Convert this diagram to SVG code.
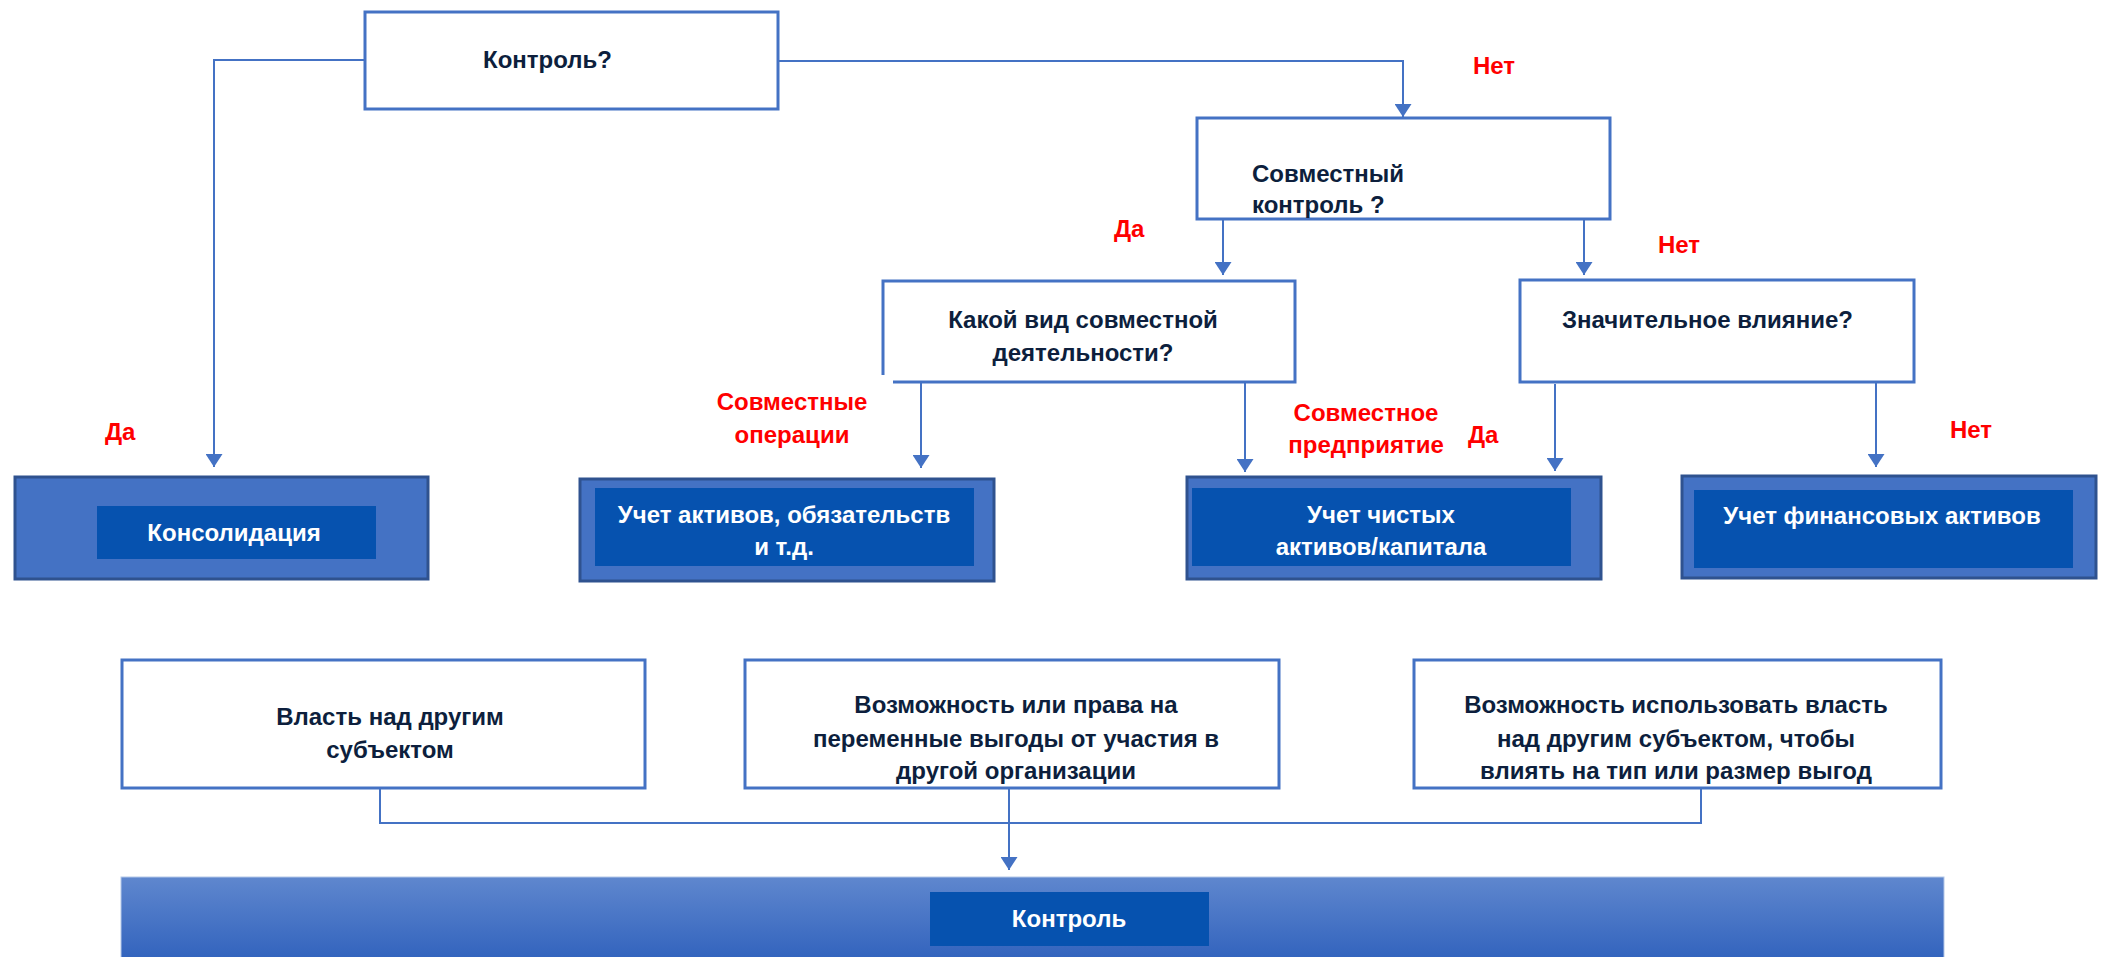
<svg xmlns="http://www.w3.org/2000/svg" width="2103" height="957" viewBox="0 0 2103 957">
<style>
  text{font-family:"Liberation Sans",Arial,sans-serif;font-weight:bold;font-size:24px}
  .dk{fill:#0D1F3D}
  .wt{fill:#FFFFFF}
  .rd{fill:#FF0000}
  .mid{text-anchor:middle}
  .q{fill:#FFFFFF;stroke:#4472C4;stroke-width:3}
  .outer{fill:#4472C4;stroke:#2F528F;stroke-width:3}
  .inner{fill:#0652AF}
  .con{fill:none;stroke:#4472C4;stroke-width:2}
</style>
<defs>
  <marker id="arr" viewBox="0 0 13 17" refX="13" refY="8.5" markerWidth="13" markerHeight="17" orient="auto" markerUnits="userSpaceOnUse">
    <path d="M0,0 L13,8.5 L0,17 z" fill="#4472C4"/>
  </marker>
  <linearGradient id="barg" x1="0" y1="0" x2="0" y2="1">
    <stop offset="0" stop-color="#5F87CE"/>
    <stop offset="1" stop-color="#2E60BC"/>
  </linearGradient>
</defs>

<g id="connectors">
  <path class="con" d="M365,60 H214 V467" marker-end="url(#arr)"/>
  <path class="con" d="M778,61 H1403 V117" marker-end="url(#arr)"/>
  <path class="con" d="M1223,219 V275" marker-end="url(#arr)"/>
  <path class="con" d="M1584,219 V275" marker-end="url(#arr)"/>
  <path class="con" d="M921,382 V468" marker-end="url(#arr)"/>
  <path class="con" d="M1245,382 V472" marker-end="url(#arr)"/>
  <path class="con" d="M1555,384 V471" marker-end="url(#arr)"/>
  <path class="con" d="M1876,381 V467" marker-end="url(#arr)"/>
  <path class="con" d="M380,788 V823 H1701 V788"/>
  <path class="con" d="M1009,788 V870" marker-end="url(#arr)"/>
</g>

<g id="labels">
  <text class="rd" x="1473" y="74">Нет</text>
  <text class="rd" x="1114" y="237">Да</text>
  <text class="rd" x="1658" y="253">Нет</text>
  <text class="rd" x="105" y="440">Да</text>
  <text class="rd mid" x="792" y="410">Совместные</text>
  <text class="rd mid" x="792" y="443">операции</text>
  <text class="rd mid" x="1366" y="421">Совместное</text>
  <text class="rd mid" x="1366" y="453">предприятие</text>
  <text class="rd" x="1468" y="443">Да</text>
  <text class="rd" x="1950" y="438">Нет</text>
</g>

<g id="n-control-q">
  <rect class="q" x="365" y="12" width="413" height="97"/>
  <text class="dk" x="483" y="68">Контроль?</text>
</g>

<g id="n-joint-control">
  <rect class="q" x="1197" y="118" width="413" height="101"/>
  <text class="dk" x="1252" y="182">Совместный</text>
  <text class="dk" x="1252" y="213">контроль ?</text>
</g>

<g id="n-joint-kind">
  <path class="q" d="M893,382 H1295 V281 H883 V375"/>
  <text class="dk mid" x="1083" y="328">Какой вид совместной</text>
  <text class="dk mid" x="1083" y="361">деятельности?</text>
</g>

<g id="n-influence">
  <rect class="q" x="1520" y="280" width="394" height="102"/>
  <text class="dk" x="1562" y="328">Значительное влияние?</text>
</g>

<g id="n-consolidation">
  <rect class="outer" x="15" y="477" width="413" height="102"/>
  <rect class="inner" x="97" y="506" width="279" height="53"/>
  <text class="wt mid" x="234" y="541">Консолидация</text>
</g>

<g id="n-assets">
  <rect class="outer" x="580" y="479" width="414" height="102"/>
  <rect class="inner" x="595" y="488" width="379" height="78"/>
  <text class="wt mid" x="784" y="523">Учет активов, обязательств</text>
  <text class="wt mid" x="784" y="555">и т.д.</text>
</g>

<g id="n-net-assets">
  <rect class="outer" x="1187" y="477" width="414" height="102"/>
  <rect class="inner" x="1192" y="488" width="379" height="78"/>
  <text class="wt mid" x="1381" y="523">Учет чистых</text>
  <text class="wt mid" x="1381" y="555">активов/капитала</text>
</g>

<g id="n-fin-assets">
  <rect class="outer" x="1682" y="476" width="414" height="102"/>
  <rect class="inner" x="1694" y="490" width="379" height="78"/>
  <text class="wt mid" x="1882" y="524">Учет финансовых активов</text>
</g>

<g id="n-power">
  <rect class="q" x="122" y="660" width="523" height="128"/>
  <text class="dk mid" x="390" y="725">Власть над другим</text>
  <text class="dk mid" x="390" y="758">субъектом</text>
</g>

<g id="n-variable">
  <rect class="q" x="745" y="660" width="534" height="128"/>
  <text class="dk mid" x="1016" y="713">Возможность или права на</text>
  <text class="dk mid" x="1016" y="747">переменные выгоды от участия в</text>
  <text class="dk mid" x="1016" y="779">другой организации</text>
</g>

<g id="n-ability">
  <rect class="q" x="1414" y="660" width="527" height="128"/>
  <text class="dk mid" x="1676" y="713">Возможность использовать власть</text>
  <text class="dk mid" x="1676" y="747">над другим субъектом, чтобы</text>
  <text class="dk mid" x="1676" y="779">влиять на тип или размер выгод</text>
</g>

<g id="n-control">
  <rect x="121" y="877" width="1823" height="90" fill="url(#barg)" stroke="#B4C7E7" stroke-width="1"/>
  <rect class="inner" x="930" y="892" width="279" height="54"/>
  <text class="wt mid" x="1069" y="927">Контроль</text>
</g>
</svg>
